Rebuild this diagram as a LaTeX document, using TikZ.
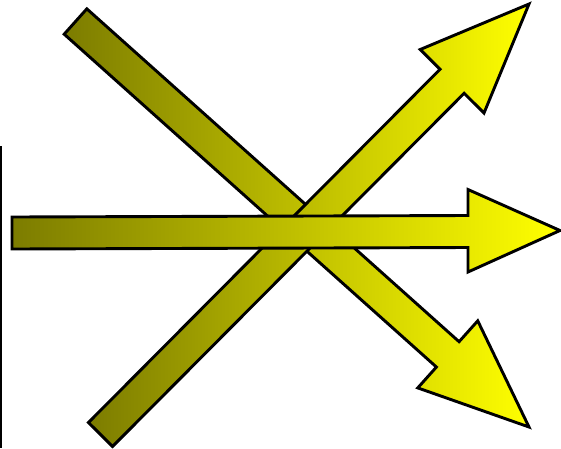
\documentclass[tikz,border=0pt]{standalone}
\definecolor{arrowdark}{RGB}{124,124,0}
\definecolor{arrowlight}{RGB}{255,255,0}
\tikzset{
  fatarrow/.style={draw=black, line width=2.9pt, line join=miter,
    left color=arrowdark, right color=arrowlight},
  edgeline/.style={draw=black, line width=1.5pt}
}
\begin{document}
\begin{tikzpicture}[x=1pt,y=-1pt]
\useasboundingbox (0,0) rectangle (561,448);
% left vertical line
\coordinate (vtop) at (1,146);
\coordinate (vbot) at (1,448);
\draw[edgeline] (vtop) -- (vbot);
% descending arrow (top-left to bottom-right)
\path[fatarrow] (64.17,34.17) -- (86.83,8.83) -- (459.08,341.68) -- (477.74,320.81)
  -- (529,427) -- (417.76,387.89) -- (436.42,367.02) -- cycle;
% ascending arrow (bottom-left to top-right)
\path[fatarrow] (112.55,446.49) -- (88.45,422.51) -- (440.05,69.27) -- (420.2,49.51)
  -- (529,4) -- (484.0,113.01) -- (464.15,93.25) -- cycle;
% horizontal arrow
\path[fatarrow] (12,217) -- (468,215.5) -- (468,189.5) -- (560,230.5)
  -- (468,272) -- (468,247.5) -- (12,249) -- cycle;
\end{tikzpicture}
\end{document}
